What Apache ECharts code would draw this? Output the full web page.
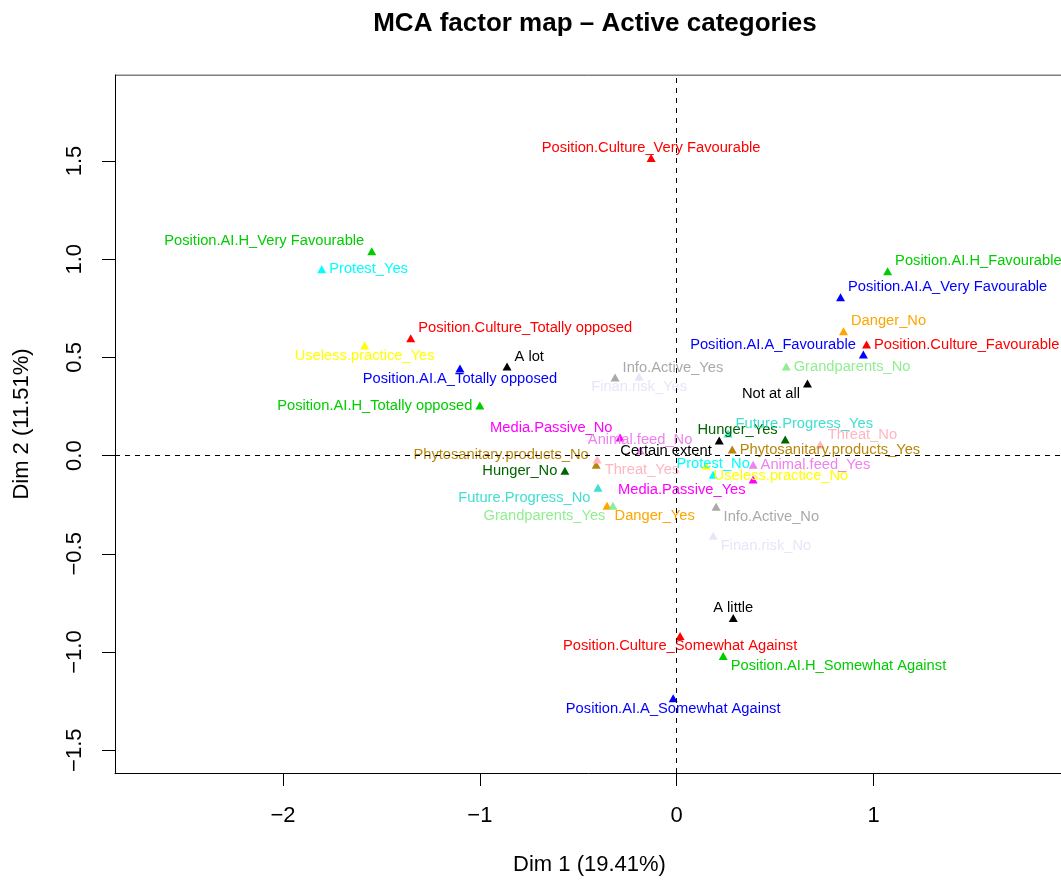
<!DOCTYPE html>
<html>
<head>
    <meta charset="utf-8">
    <title>MCA factor map</title>
    <script src="https://cdn.jsdelivr.net/npm/echarts@6/dist/echarts.min.js"></script>
    <style>
        html, body { margin: 0; padding: 0; background: #fff; }
        #main { width: 1061px; height: 880px; }
    </style>
</head>
<body>
<div id="main"></div>
<script>
    // category names, coordinates on Dim 1 / Dim 2, and the variable each belongs to
    var catNames = [
        'Position.Culture_Very Favourable', 'Position.AI.H_Very Favourable', 'Protest_Yes',
        'Position.AI.H_Favourable', 'Position.AI.A_Very Favourable', 'Danger_No',
        'Position.Culture_Favourable', 'Position.AI.A_Favourable', 'Grandparents_No',
        'Not at all', 'Position.Culture_Totally opposed', 'Useless.practice_Yes',
        'Position.AI.A_Totally opposed', 'A lot', 'Position.AI.H_Totally opposed',
        'Info.Active_Yes', 'Finan.risk_Yes', 'Media.Passive_No', 'Animal.feed_No',
        'Certain extent', 'Hunger_Yes', 'Future.Progress_Yes', 'Phytosanitary.products_Yes',
        'Threat_No', 'Protest_No', 'Useless.practice_No', 'Animal.feed_Yes',
        'Media.Passive_Yes', 'Info.Active_No', 'Finan.risk_No', 'Phytosanitary.products_No',
        'Threat_Yes', 'Hunger_No', 'Future.Progress_No', 'Danger_Yes', 'Grandparents_Yes',
        'A little', 'Position.Culture_Somewhat Against', 'Position.AI.H_Somewhat Against',
        'Position.AI.A_Somewhat Against'
    ];
    var dim1 = [
        -0.130, -1.549, -1.803,
        1.071, 0.832, 0.847,
        0.964, 0.948, 0.556,
        0.664, -1.351, -1.585,
        -1.101, -0.862, -1.000,
        -0.313, -0.191, -0.288, -0.186,
        0.216, 0.551, 0.261, 0.282,
        0.729, 0.185, 0.149, 0.388,
        0.388, 0.200, 0.185, -0.409,
        -0.404, -0.568, -0.400, -0.354, -0.324,
        0.287, 0.017, 0.236,
        -0.018
    ];
    var dim2 = [
        1.515, 1.041, 0.949,
        0.939, 0.806, 0.633,
        0.566, 0.515, 0.454,
        0.367, 0.597, 0.561,
        0.444, 0.454, 0.255,
        0.398, 0.403, 0.092, 0.026,
        0.077, 0.082, 0.112, 0.031,
        0.056, -0.097, -0.051, -0.046,
        -0.122, -0.260, -0.408, -0.046,
        -0.020, -0.077, -0.163, -0.255, -0.255,
        -0.827, -0.918, -1.020,
        -1.235
    ];
    var catVar = [
        'Position.Culture', 'Position.AI.H', 'Protest',
        'Position.AI.H', 'Position.AI.A', 'Danger',
        'Position.Culture', 'Position.AI.A', 'Grandparents',
        'Extent', 'Position.Culture', 'Useless.practice',
        'Position.AI.A', 'Extent', 'Position.AI.H',
        'Info.Active', 'Finan.risk', 'Media.Passive', 'Animal.feed',
        'Extent', 'Hunger', 'Future.Progress', 'Phytosanitary.products',
        'Threat', 'Protest', 'Useless.practice', 'Animal.feed',
        'Media.Passive', 'Info.Active', 'Finan.risk', 'Phytosanitary.products',
        'Threat', 'Hunger', 'Future.Progress', 'Danger', 'Grandparents',
        'Extent', 'Position.Culture', 'Position.AI.H',
        'Position.AI.A'
    ];
    var xTicks = [-2, -1, 0, 1];
    var yTicks = [-1.5, -1, -0.5, 0, 0.5, 1, 1.5];

    // styling: colour per variable, side on which each label sits
    var varColors = {
        'Extent': '#000000',
        'Position.Culture': '#FF0000',
        'Position.AI.H': '#00CD00',
        'Position.AI.A': '#0000FF',
        'Protest': '#00FFFF',
        'Media.Passive': '#FF00FF',
        'Info.Active': '#A9A9A9',
        'Phytosanitary.products': '#B8860B',
        'Hunger': '#006400',
        'Animal.feed': '#EE82EE',
        'Future.Progress': '#40E0D0',
        'Danger': '#FFA500',
        'Threat': '#FFB6C1',
        'Finan.risk': '#E6E6FA',
        'Useless.practice': '#FFFF00',
        'Grandparents': '#90EE90'
    };
    var labelSide = [
        'T', 'LT', 'R',
        'RT', 'RT', 'RT',
        'R', 'LT', 'R',
        'LB', 'RT', 'B',
        'B', 'RT', 'L',
        'RT', 'B', 'LT', 'T',
        'LB', 'LT', 'RT', 'R',
        'RT', 'T', 'RB', 'R',
        'LB', 'RB', 'RB', 'LT',
        'RB', 'L', 'LB', 'RB', 'LB',
        'T', 'B', 'RB',
        'B'
    ];

    var font = 'Liberation Sans, Arial, sans-serif';

    function labelFor(side, color) {
        var lab = { show: true, color: color, fontSize: 14.7, fontFamily: font, formatter: '{b}' };
        if (side == 'T') { lab.position = 'top'; lab.distance = -1; }
        else if (side == 'B') { lab.position = 'bottom'; lab.distance = -1; }
        else {
            lab.position = side.charAt(0) == 'L' ? 'left' : 'right';
            lab.distance = 3;
            if (side.charAt(1) == 'T') lab.offset = [0, -10];
            if (side.charAt(1) == 'B') lab.offset = [0, 10];
        }
        return lab;
    }

    var points = [];
    for (var i = 0; i < catNames.length; i++) {
        var col = varColors[catVar[i]];
        points.push({
            name: catNames[i],
            value: [dim1[i], dim2[i]],
            itemStyle: { color: col, opacity: 1 },
            label: labelFor(labelSide[i], col)
        });
    }

    function rMinus(v) {
        return String(v).replace('-', '\u2212');
    }

    var chart = echarts.init(document.getElementById('main'));
    chart.setOption({
        backgroundColor: '#fff',
        animation: false,
        title: {
            text: 'MCA factor map \u2013 Active categories',
            left: 590, top: 6, textAlign: 'center',
            textStyle: { fontSize: 26, fontWeight: 'bold', color: '#000', fontFamily: font }
        },
        grid: { left: 115, right: -3, top: 75, bottom: 107, show: false, containLabel: false, outerBoundsMode: 'none' },
        xAxis: {
            type: 'value', min: -2.853, max: 1.967,
            name: 'Dim 1 (19.41%)', nameLocation: 'middle', nameGap: 81,
            nameTextStyle: { fontSize: 22, color: '#000', fontFamily: font },
            axisLine: { show: true, onZero: false, lineStyle: { color: '#000', width: 1 } },
            axisTick: { show: true, length: 13, customValues: xTicks, lineStyle: { color: '#000' } },
            axisLabel: { customValues: xTicks, margin: 32, fontSize: 22, color: '#000', fontFamily: font,
                formatter: function (v) { return rMinus(v); } },
            splitLine: { show: false }
        },
        yAxis: {
            type: 'value', min: -1.616, max: 1.938,
            name: 'Dim 2 (11.51%)', nameLocation: 'middle', nameGap: 82,
            nameTextStyle: { fontSize: 22, color: '#000', fontFamily: font },
            axisLine: { show: true, onZero: false, lineStyle: { color: '#000', width: 1 } },
            axisTick: { show: true, length: 13, customValues: yTicks, lineStyle: { color: '#000' } },
            axisLabel: { customValues: yTicks, rotate: 90, margin: 29, fontSize: 22, color: '#000', fontFamily: font,
                formatter: function (v) { return rMinus(v.toFixed(1)); } },
            splitLine: { show: false }
        },
        series: [
            {
                type: 'scatter',
                symbol: 'triangle',
                symbolSize: [9, 8],
                data: points,
                markLine: {
                    silent: true,
                    symbol: 'none',
                    label: { show: false },
                    lineStyle: { color: '#000', type: [5, 5], width: 1 },
                    data: [{ xAxis: 0 }, { yAxis: 0 }]
                }
            },
            {
                // top frame line of the box
                type: 'line',
                data: [[-2.853, 1.938], [1.967, 1.938]],
                symbol: 'none',
                lineStyle: { color: '#000', width: 1 },
                silent: true
            }
        ]
    });
</script>
</body>
</html>
